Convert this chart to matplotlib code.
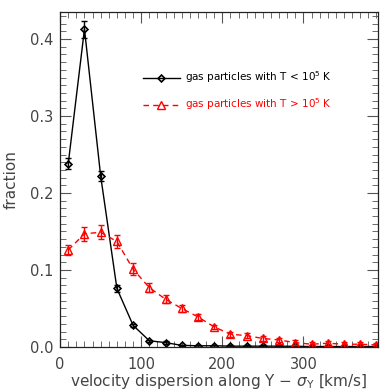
import numpy as np
import matplotlib
matplotlib.use('Agg')
import matplotlib.pyplot as plt
from matplotlib.ticker import MultipleLocator

# bin centres (km/s)
sigma = [10, 30, 50, 70, 90, 110, 130, 150, 170, 190,
         210, 230, 250, 270, 290, 310, 330, 350, 370, 390]

# T < 1e5 K
cold = [0.238, 0.413, 0.222, 0.076, 0.028, 0.008, 0.0056, 0.002, 0.0015, 0.0015,
        0.001, 0.001, 0.001, 0.001, 0.0008, 0.0005, 0.0005, 0.0005, 0.0005, 0.0005]
cold_err = [0.007, 0.011, 0.006, 0.004, 0.002, 0.0015, 0.0015, 0.001, 0.001, 0.001,
            0.001, 0.001, 0.001, 0.001, 0.001, 0.001, 0.001, 0.001, 0.001, 0.001]

# T > 1e5 K
hot = [0.126, 0.147, 0.149, 0.137, 0.101, 0.077, 0.062, 0.050, 0.039, 0.026,
       0.0165, 0.0147, 0.011, 0.009, 0.0056, 0.0035, 0.0048, 0.0035, 0.0035, 0.0026]
hot_err = [0.007, 0.009, 0.009, 0.009, 0.008, 0.006, 0.005, 0.004, 0.004, 0.003,
           0.003, 0.003, 0.003, 0.003, 0.003, 0.003, 0.003, 0.003, 0.003, 0.003]

txt = '#444444'
plt.rcParams['font.family'] = 'DejaVu Sans'

fig = plt.figure(figsize=(3.83, 3.92), dpi=100)
ax = fig.add_axes([0.157, 0.115, 0.83, 0.854])

ax.errorbar(sigma, cold, yerr=cold_err, fmt='none', ecolor='black', elinewidth=1.0, capsize=2.2, capthick=1.0)
ax.plot(sigma, cold, color='black', lw=1.0, marker='D', ms=3.5, mfc='none', mec='black', mew=1.2,
        label=r'gas particles with T < 10$^5$ K')

ax.errorbar(sigma, hot, yerr=hot_err, fmt='none', ecolor='red', elinewidth=1.0, capsize=2.2, capthick=1.0)
ax.plot(sigma, hot, color='red', lw=1.0, ls=(0, (4, 3)), marker='^', ms=6, mfc='none', mec='red', mew=1.0,
        label=r'gas particles with T > 10$^5$ K')

ax.set_xlim(0, 392)
ax.set_ylim(0, 0.435)
ax.xaxis.set_major_locator(MultipleLocator(100))
ax.xaxis.set_minor_locator(MultipleLocator(10))
ax.yaxis.set_major_locator(MultipleLocator(0.1))
ax.yaxis.set_minor_locator(MultipleLocator(0.01))
ax.yaxis.set_major_formatter(matplotlib.ticker.FormatStrFormatter('%.1f'))
ax.tick_params(which='both', direction='in', top=True, right=True, colors='#555555', labelcolor=txt, labelsize=10.5)
ax.tick_params(which='major', length=8, width=0.8)
ax.tick_params(which='minor', length=4, width=0.6)
ax.tick_params(axis='x', pad=7)
ax.tick_params(axis='y', pad=5)
for s in ax.spines.values():
    s.set_linewidth(0.9)
    s.set_color('#222222')

ax.set_xlabel(r'velocity dispersion along Y $-$ $\sigma_{\rm Y}$ [km/s]', fontsize=11, color=txt, labelpad=0)
ax.set_ylabel('fraction', fontsize=11, color=txt, labelpad=8)

leg = ax.legend(loc='upper left', bbox_to_anchor=(0.23, 0.857), frameon=False, fontsize=7.5,
                handlelength=3.6, numpoints=1, labelspacing=1.1, handletextpad=0.5)
for t, c in zip(leg.get_texts(), ['black', 'red']):
    t.set_color(c)

fig.savefig('out.png', dpi=100)
